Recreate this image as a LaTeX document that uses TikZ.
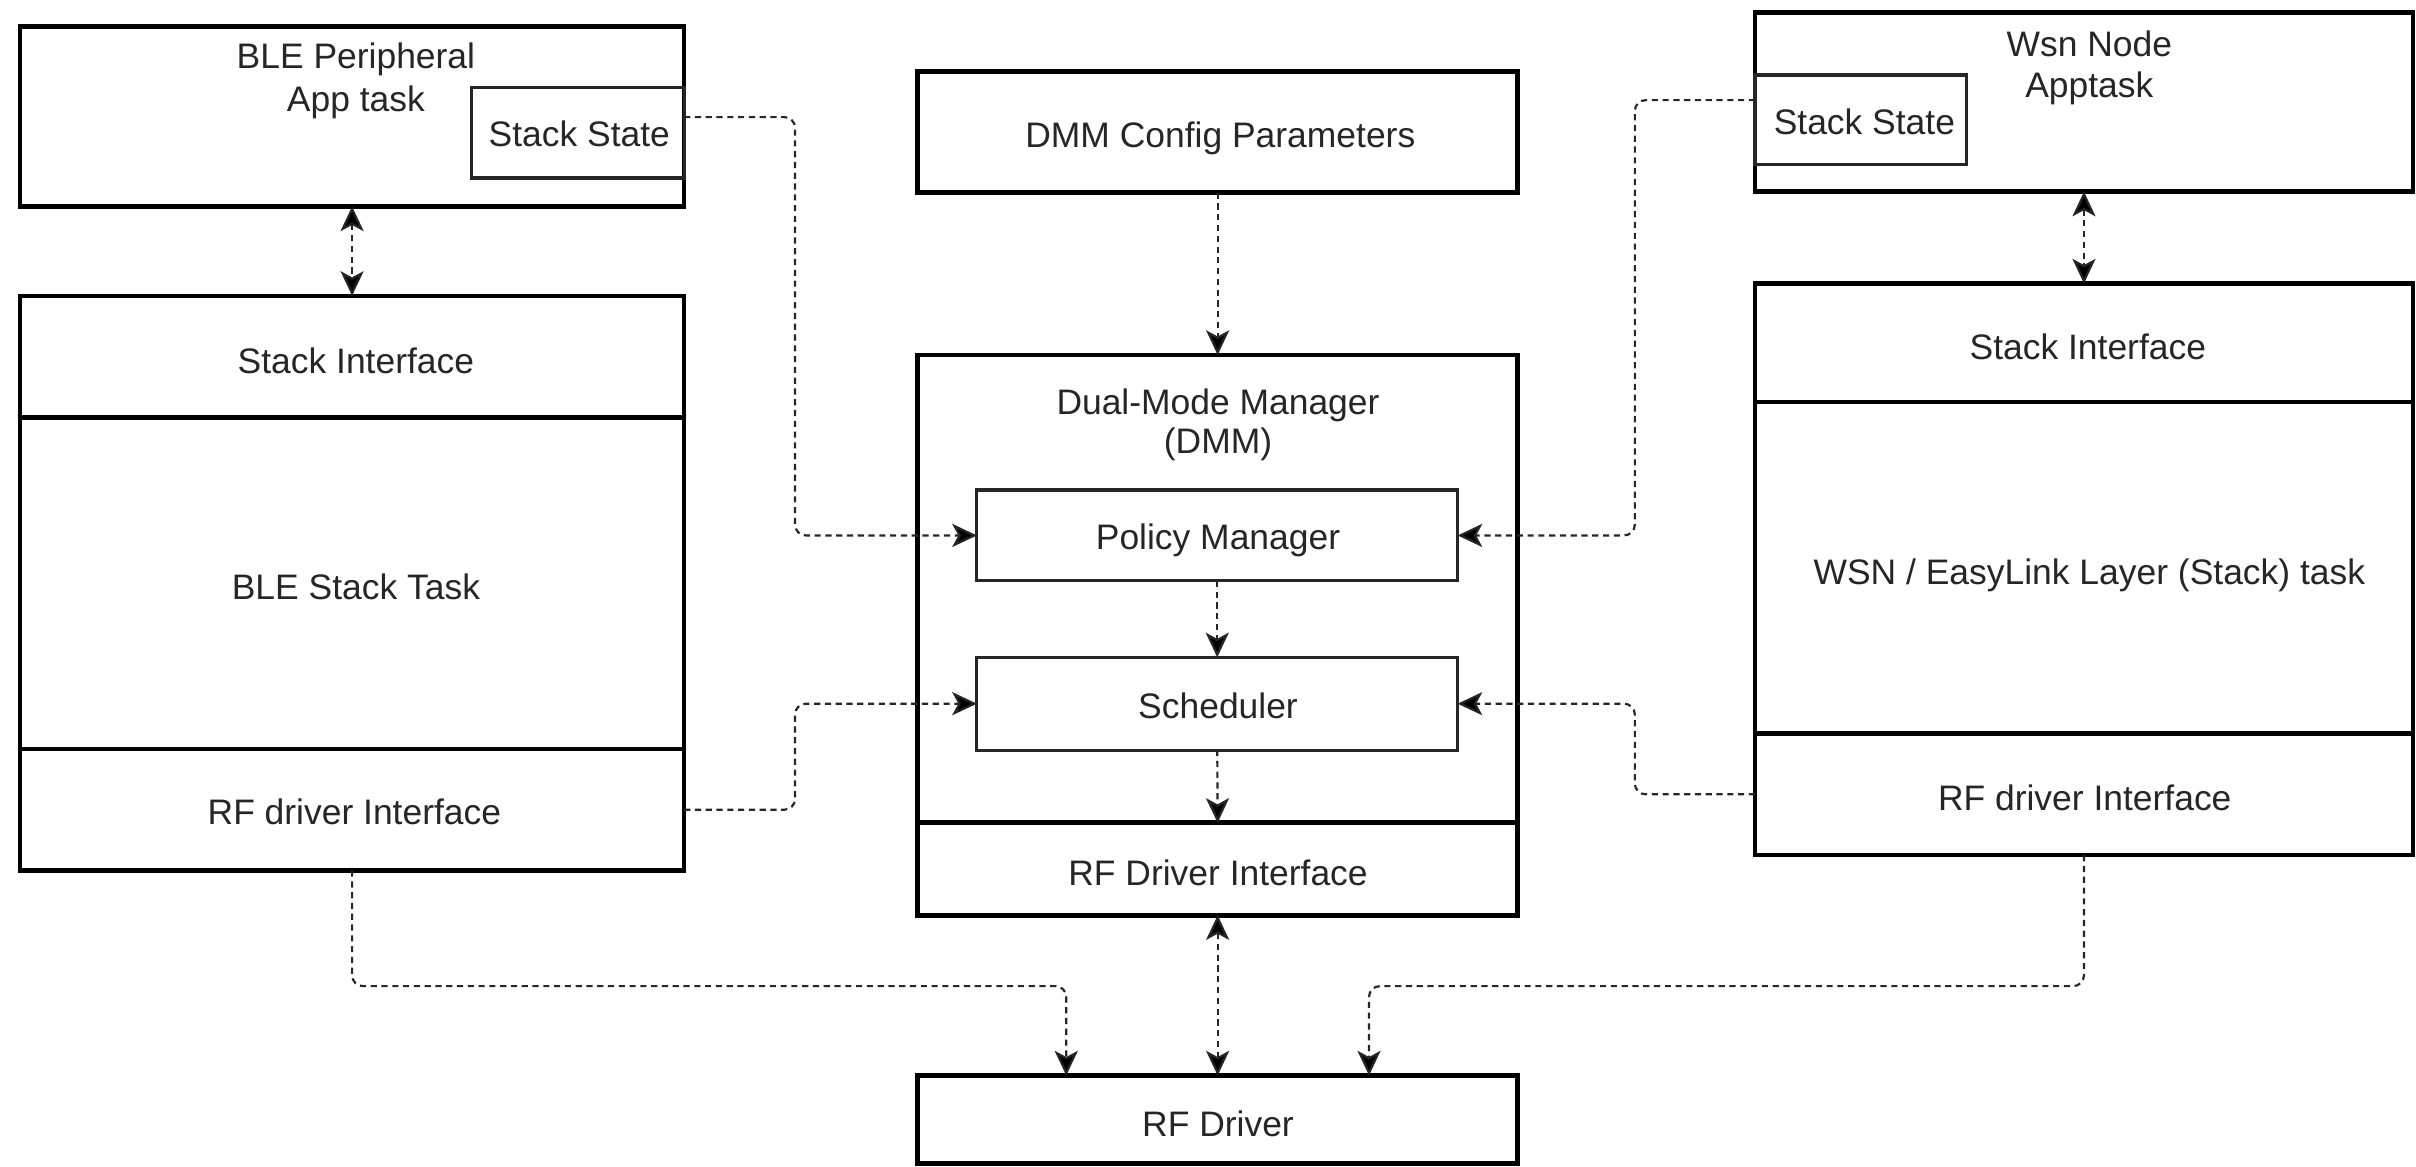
\documentclass[tikz,border=0pt]{standalone}
\usepackage{fontspec}
\setmainfont{Liberation Sans}
\usetikzlibrary{arrows.meta}
\newcommand{\lblfont}{\fontsize{23}{27}\selectfont}
\begin{document}
\begin{tikzpicture}[x=1pt,y=-1pt,
  box/.style={draw=black, line width=3pt, inner sep=0pt, outer sep=0pt},
  subbox/.style={draw=black!85, line width=2pt, inner sep=0pt, outer sep=0pt},
  lbl/.style={font=\lblfont, text=black!85, inner sep=0pt, anchor=base},
  tipk/.tip={Stealth[length=16pt,width=15pt,inset=4pt,fill=black]},
  conn/.style={draw=black!85, line width=1.4pt, dash pattern=on 4pt off 3pt, rounded corners=7pt, -tipk},
  bconn/.style={conn, tipk-tipk}]
\useasboundingbox (0,0) rectangle (1568,757);

% ---------- left column ----------
\node[box, minimum width=431pt, minimum height=117pt] (bleapp) at (228.5,75.5) {};
\node[subbox, minimum width=138pt, minimum height=58.5pt] (blestate) at (375,86.25) {};
\node[box, minimum width=431pt, minimum height=79pt] (blesi) at (228.5,231.5) {};
\node[box, minimum width=431pt, minimum height=215pt] (blest) at (228.5,378.5) {};
\node[box, minimum width=431pt, minimum height=79pt] (blerf) at (228.5,525.5) {};

\node[lbl] (t1) at (231,44.3) {BLE Peripheral};
\node[lbl] (t2) at (231,72.3) {App task};
\node[lbl] (t3) at (376,95.3) {Stack State};
\node[lbl] (t4) at (231,242.3) {Stack Interface};
\node[lbl] (t5) at (231,389) {BLE Stack Task};
\node[lbl] (t6) at (230,535.3) {RF driver Interface};

% ---------- middle column ----------
\node[box, minimum width=389.5pt, minimum height=78.5pt] (dmmcfg) at (790.25,85.75) {};
\node[box, minimum width=389.5pt, minimum height=303.6pt] (dmm) at (790.25,382.2) {};
\node[subbox, minimum width=312pt, minimum height=59pt] (policy) at (790,347.5) {};
\node[subbox, minimum width=312pt, minimum height=60.2pt] (sched) at (790,456.7) {};
\node[box, minimum width=389.5pt, minimum height=60pt] (rfdi) at (790.25,564) {};
\node[box, minimum width=389.5pt, minimum height=57pt] (rfdrv) at (790.25,726.5) {};

\node[lbl] (t7) at (792,95.6) {DMM Config Parameters};
\node[lbl] (t8) at (790.5,269.3) {Dual-Mode Manager};
\node[lbl] (t9) at (790.5,294.3) {(DMM)};
\node[lbl] (t10) at (790.5,356.6) {Policy Manager};
\node[lbl] (t11) at (790.5,466) {Scheduler};
\node[lbl] (t12) at (790.5,574.5) {RF Driver Interface};
\node[lbl] (t13) at (790.5,737.3) {RF Driver};

% ---------- right column ----------
\node[box, minimum width=427pt, minimum height=116.4pt] (wsnapp) at (1352.5,66.2) {};
\node[subbox, minimum width=137pt, minimum height=58.3pt] (wsnstate) at (1207.5,77.85) {};
\node[box, minimum width=427pt, minimum height=77pt] (wsnsi) at (1352.5,222.5) {};
\node[box, minimum width=427pt, minimum height=215pt] (wsnst) at (1352.5,368.5) {};
\node[box, minimum width=427pt, minimum height=79pt] (wsnrf) at (1352.5,515.5) {};

\node[lbl] (t14) at (1356,36.4) {Wsn Node};
\node[lbl] (t15) at (1356,63.5) {Apptask};
\node[lbl] (t16) at (1210,87.3) {Stack State};
\node[lbl] (t17) at (1355,233.3) {Stack Interface};
\node[lbl] (t18) at (1356,379.3) {WSN / EasyLink Layer (Stack) task};
\node[lbl] (t19) at (1353,526.3) {RF driver Interface};

% ---------- helper coordinates ----------
\coordinate (yA) at (0,76);
\coordinate (yB) at (0,65);
\coordinate (xL) at (516,0);
\coordinate (xR) at (1061,0);
\coordinate (lb) at (692,640);
\coordinate (rb) at (888.5,640);

% ---------- connectors ----------
\draw[bconn] (bleapp.south) -- (blesi.north);
\draw[bconn] (wsnapp.south) -- (wsnsi.north);
\draw[conn] (dmmcfg.south) -- (dmm.north);
\draw[conn] (policy.south) -- (sched.north);
\draw[conn] (sched.south) -- (rfdi.north);
\draw[bconn] (rfdi.south) -- (rfdrv.north);

\draw[conn] (blestate.east |- yA) -| (xL |- policy.west) -- (policy.west);
\draw[conn] (wsnstate.west |- yB) -| (xR |- policy.east) -- (policy.east);
\draw[conn] (blerf.east) -| (xL |- sched.west) -- (sched.west);
\draw[conn] (wsnrf.west) -| (xR |- sched.east) -- (sched.east);

\draw[conn] (blerf.south) |- (lb) -- (lb |- rfdrv.north);
\draw[conn] (wsnrf.south) |- (rb) -- (rb |- rfdrv.north);
\end{tikzpicture}
\end{document}
